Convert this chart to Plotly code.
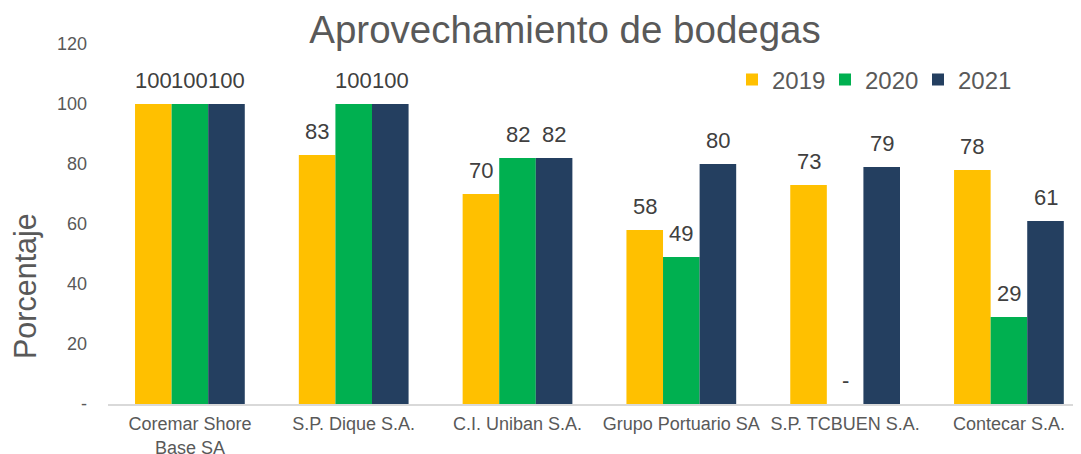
import plotly.graph_objects as go

categories = ["Coremar Shore<br>Base SA", "S.P. Dique S.A.", "C.I. Uniban S.A.",
              "Grupo Portuario SA", "S.P. TCBUEN S.A.", "Contecar S.A."]
years = ["2019", "2020", "2021"]
v2019 = [100, 83, 70, 58, 73, 78]
v2020 = [100, 100, 82, 49, 0, 29]
v2021 = [100, 100, 82, 80, 79, 61]
labels2019 = ["100", "83", "70", "58", "73", "78"]
labels2020 = ["100", "100", "82", "49", "-", "29"]
labels2021 = ["100", "100", "82", "80", "79", "61"]
colors = ["#FFC000", "#00B050", "#243F60"]
yticks = [0, 20, 40, 60, 80, 100, 120]
yticktext = ["-", "20", "40", "60", "80", "100", "120"]

FONT = "Arial, Liberation Sans, sans-serif"
series = [v2019, v2020, v2021]
labels = [labels2019, labels2020, labels2021]

fig = go.Figure()
for name, vals, col in zip(years, series, colors):
    fig.add_trace(go.Bar(x=categories, y=vals, name=name, marker_color=col,
                         marker_line_width=0))

# page body has an 8px margin; figure is sized to fit the 1081x454 window
OFF = 8
W, H = 1081 - OFF, 454 - OFF
L, R, T, B = 108 - OFF, 0, 44 - OFF, 50
plot_w = W - L - R
plot_h = H - T - B
x_range = [-0.5, 5.44]
px_per_cat = plot_w / (x_range[1] - x_range[0])
bargap = 0.33
bar_px = px_per_cat * (1 - bargap) / 3

annotations = []
for i, (vals, labs) in enumerate(zip(series, labels)):
    for cat, v, lab in zip(categories, vals, labs):
        annotations.append(dict(x=cat, y=v, xref="x", yref="y", text=lab,
                                showarrow=False, xshift=(i - 1) * bar_px,
                                yanchor="middle", yshift=24,
                                font=dict(family=FONT, size=22, color="#404040")))
annotations.append(dict(x=(25 - 108) / plot_w, y=(404 - 286) / plot_h, xref="paper", yref="paper",
                        xanchor="center", yanchor="middle",
                        text="Porcentaje", textangle=-90, showarrow=False,
                        font=dict(family=FONT, size=30.5, color="#595959")))

fig.update_layout(
    width=W, height=H,
    margin=dict(l=L, r=R, t=T, b=B, autoexpand=False),
    paper_bgcolor="white", plot_bgcolor="white",
    barmode="group", bargap=bargap, bargroupgap=0,
    title=dict(text="Aprovechamiento de bodegas", x=(565 - OFF) / W, xanchor="center",
               y=1 - (30 - OFF) / H, yanchor="middle",
               font=dict(family=FONT, size=38.5, color="#595959")),
    font=dict(family=FONT, color="#595959"),
    showlegend=True,
    legend=dict(orientation="h", x=(732 - 108) / plot_w, xanchor="left",
                y=0.9, yanchor="middle", font=dict(family=FONT, size=24, color="#595959"),
                bgcolor="rgba(0,0,0,0)", traceorder="normal",
                entrywidth=48, entrywidthmode="pixels"),
    xaxis=dict(range=x_range, showgrid=False, showline=True, linecolor="#D9D9D9",
               linewidth=1.5, ticks="", ticklabelstandoff=3, automargin=False,
               tickfont=dict(family=FONT, size=18, color="#595959"),
               zeroline=False),
    yaxis=dict(range=[0, 120], tickvals=yticks, ticktext=yticktext, showgrid=False,
               showline=False, zeroline=False, ticks="", ticklabelstandoff=20,
               automargin=False,
               tickfont=dict(family=FONT, size=18, color="#595959")),
    annotations=annotations,
)

fig.write_html("out.html")
